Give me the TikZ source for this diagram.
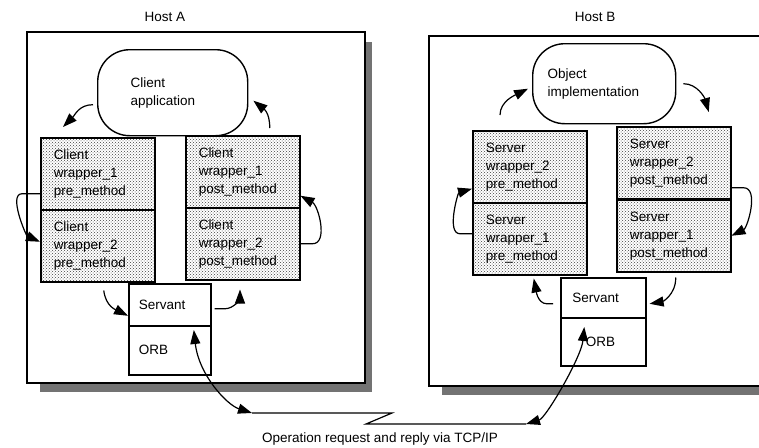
\documentclass[tikz,border=0pt]{standalone}
\usepackage{fontspec}
\setmainfont{Liberation Sans}
\usetikzlibrary{arrows.meta,patterns}

\begin{document}
\begin{tikzpicture}[x=1pt, y=-1pt,
  font=\fontsize{13.5}{18}\selectfont,
  host/.style={draw, line width=1.6pt, fill=white, anchor=north west, minimum height=351pt, inner sep=0pt},
  hostshadow/.style={fill=black!55},
  wrapper/.style={draw, line width=1.5pt, pattern=crosshatch dots, pattern color=black!75, anchor=north west, minimum width=114pt, minimum height=72pt, text width=88pt, inner xsep=13pt, align=left},
  app/.style={draw, line width=1.4pt, fill=white, rounded corners=32pt, anchor=north west, align=left},
  orbbox/.style={draw, line width=1.6pt, fill=white, anchor=north west, minimum width=82pt, text width=62pt, inner xsep=10pt, align=left},
  flow/.style={line width=1.2pt, -{Triangle[length=14pt,width=10pt]}},
  link/.style={line width=1.2pt, {Triangle[length=14pt,width=10pt]}-{Triangle[length=14pt,width=10pt]}}
]
\useasboundingbox (0,0) rectangle (759,447);

\fill[hostshadow] (40,42) rectangle (372,392);
\fill[hostshadow] (442,47) rectangle (790,395);
\node[host, minimum width=338pt] (hosta) at (26,31) {};
\node[host, minimum width=350pt, minimum height=350pt] (hostb) at (428,35) {};
\node (hostalabel) at (165,17) {Host A};
\node (hostblabel) at (595,17) {Host B};

\node[app, minimum width=150pt, minimum height=86pt, text width=84pt, inner xsep=33pt] (client) at (97,49) {Client\\application};
\node[wrapper] (cpre1) at (40,137) {Client\\wrapper\_1\\pre\_method};
\node[wrapper] (cpre2) at (40,209) {Client\\wrapper\_2\\pre\_method};
\node[wrapper] (cpost1) at (185,135) {Client\\wrapper\_1\\post\_method};
\node[wrapper] (cpost2) at (185,207) {Client\\wrapper\_2\\post\_method};
\node[orbbox, minimum height=42pt] (servanta) at (128,283) {Servant};
\node[orbbox, minimum height=49pt] (orba) at (128,325) {ORB};

\node[app, minimum width=143pt, minimum height=80pt, text width=113pt, inner xsep=15pt] (objimpl) at (532,43) {Object\\implementation};
\node[wrapper] (spre2) at (472,130) {Server\\wrapper\_2\\pre\_method};
\node[wrapper] (spre1) at (472,202) {Server\\wrapper\_1\\pre\_method};
\node[wrapper] (spost2) at (616,126) {Server\\wrapper\_2\\post\_method};
\node[wrapper] (spost1) at (616,199) {Server\\wrapper\_1\\post\_method};
\node[orbbox, minimum width=85pt, minimum height=40pt, inner xsep=11pt] (servantb) at (560,277) {Servant};
\node[orbbox, minimum width=85pt, minimum height=48pt, text width=35pt, inner xsep=25pt] (orbb) at (560,317) {ORB};

\node (tcplabel) at (380,439) {Operation request and reply via TCP/IP};
\coordinate (netl) at (252,413);
\coordinate (netr) at (526,424);

\draw[flow] ([xshift=-4pt,yshift=-12pt]client.west) .. controls +(-14,0) and +(12,-12) .. ([xshift=23pt,yshift=10pt]cpre1.north west);
\draw[flow] ([xshift=27pt,yshift=7pt]cpost1.north) .. controls +(0,-16) and +(10,8) .. ([xshift=5pt,yshift=-8pt]client.east);
\draw[flow] ([yshift=-20pt]cpre1.west) -- ++(-18,0) .. controls +(-14,0) and +(-14,-6) .. ([yshift=4pt]cpre2.west);
\draw[flow] (cpost2.east) -- ++(12,0) .. controls +(16,0) and +(18,10) .. ([yshift=-24pt]cpost1.east);
\draw[flow] ([xshift=6pt,yshift=-8pt]cpre2.south) .. controls +(2,16) and +(-12,-6) .. ([yshift=-11pt]servanta.west);
\draw[flow] ([xshift=3pt,yshift=-4pt]servanta.east) -- ++(10,0) .. controls +(10,0) and +(0,8) .. ([xshift=55pt,yshift=-9pt]cpost2.south west);

\draw[flow] ([xshift=28pt,yshift=15pt]spre2.north west) .. controls +(0,-14) and +(-12,6) .. ([xshift=-4pt,yshift=-5pt]objimpl.west);
\draw[flow] ([xshift=7pt]objimpl.east) .. controls +(14,0) and +(-4,-14) .. ([xshift=35pt,yshift=14pt]spost2.north);
\draw[flow] ([yshift=5pt]spre1.west) -- ++(-12,0) .. controls +(-14,0) and +(-14,4) .. ([yshift=-22pt]spre2.west);
\draw[flow] ([yshift=-25pt]spost2.east) -- ++(12,0) .. controls +(16,0) and +(16,-8) .. (spost1.east);
\draw[flow] ([xshift=-7pt,yshift=-6pt]servantb.west) -- ++(-6,0) .. controls +(-10,0) and +(2,10) .. ([xshift=4pt,yshift=-3pt]spre1.south);
\draw[flow] ([xshift=2pt,yshift=-5pt]spost1.south) .. controls +(0,18) and +(12,-2) .. ([xshift=3pt,yshift=-6pt]servantb.east);

\draw[line width=1.2pt] (netl) -- ++(140,0) -- ++(-26,11) -- (netr);
\draw[link] ([xshift=24pt,yshift=-5pt]orba.north) .. controls +(5,45) and +(-25,-8) .. (netl);
\draw[link] (netr) .. controls +(20,-6) and +(-3,30) .. ([xshift=-19pt,yshift=-10pt]orbb.north);
\end{tikzpicture}
\end{document}
